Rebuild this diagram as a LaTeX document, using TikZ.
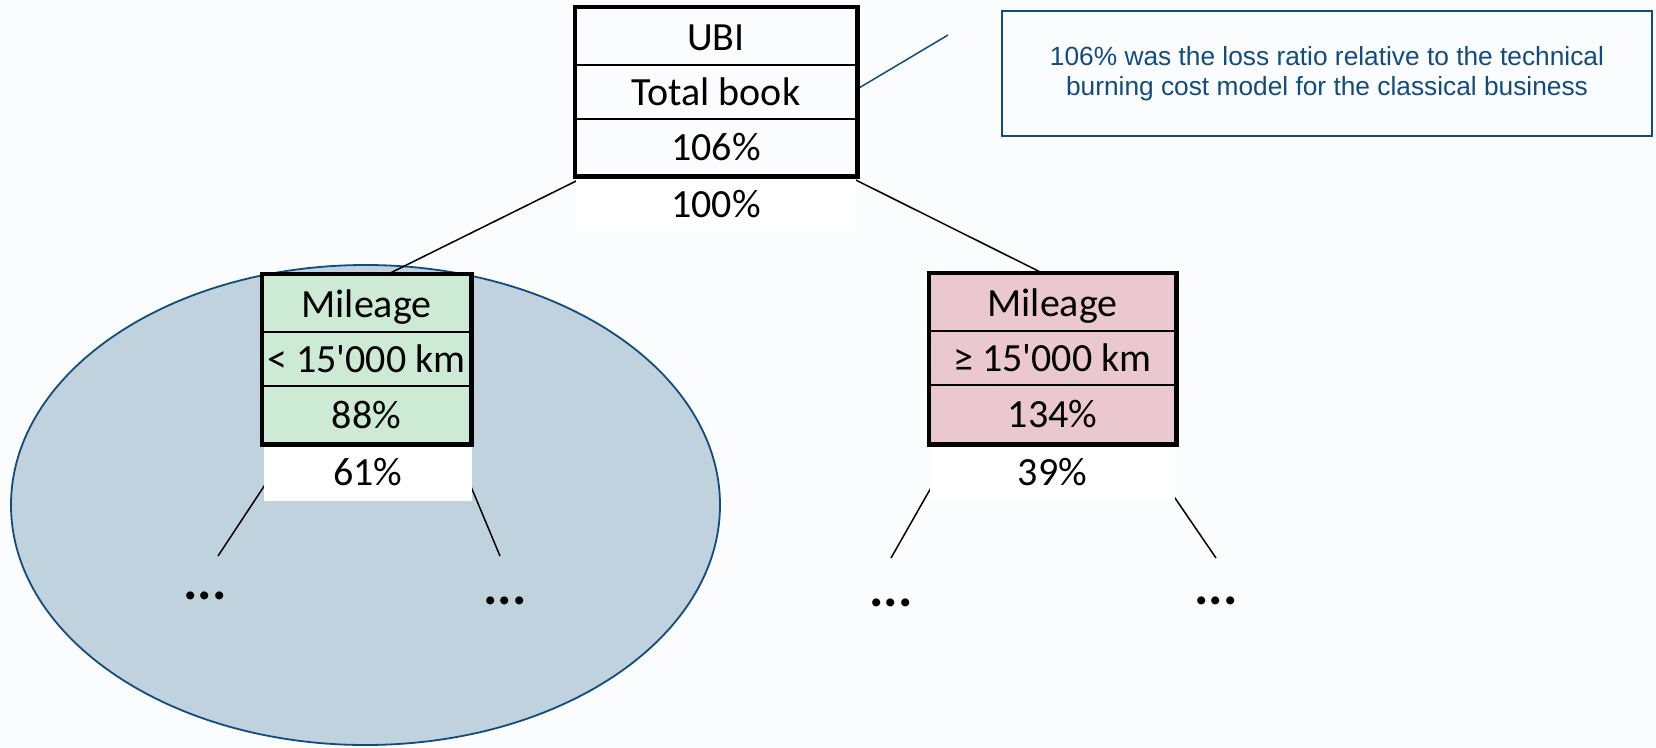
\documentclass[tikz,border=0pt]{standalone}
\usepackage{fontspec}
\newfontfamily\calib{Carlito}
\newfontfamily\arialf{Liberation Sans}
\usetikzlibrary{calc}
\pgfdeclarelayer{back}
\pgfdeclarelayer{behind}
\pgfsetlayers{back,behind,main}
\definecolor{pagebg}{RGB}{251,252,254}
\definecolor{mintfill}{RGB}{205,234,212}
\definecolor{pinkfill}{RGB}{235,200,208}
\definecolor{ellfill}{RGB}{192,210,222}
\definecolor{navy}{RGB}{18,76,126}
\tikzset{
  cell/.style={draw=black, line width=2.5pt, inner sep=0pt, anchor=center,
    text height=31pt, text depth=4pt,
    font=\calib\fontsize{40}{48}\selectfont, text=black},
  share/.style={fill=white, inner sep=0pt, anchor=center,
    text height=31pt, text depth=4pt,
    font=\calib\fontsize{40}{48}\selectfont, text=black},
  frame/.style={draw=black, line width=4.5pt},
  branch/.style={draw=black, line width=1.5pt},
  more/.style={anchor=base, inner sep=0pt, font=\calib\bfseries\fontsize{54}{60}\selectfont},
  note/.style={draw=navy, line width=1.5pt, text=navy, align=center, inner sep=0pt,
    minimum width=650pt, minimum height=125pt,
    font=\arialf\fontsize{26.3}{30}\selectfont},
}
\begin{document}
\begin{tikzpicture}[x=1pt,y=-1pt]
\useasboundingbox (0,0) rectangle (1656,747);
\begin{pgfonlayer}{back}
  \fill[pagebg] (0,0) rectangle (1656,747);
  \filldraw[fill=ellfill, draw=navy, line width=1.8pt] (365.5,505) ellipse [x radius=354.5, y radius=240];
\end{pgfonlayer}

% top box
\node[cell, minimum width=280pt, minimum height=57pt] (T1) at (716,36.5) {UBI};
\node[cell, minimum width=280pt, minimum height=54pt] (T2) at (716,92) {Total book};
\node[cell, minimum width=280pt, minimum height=56pt] (T3) at (716,147) {106\%};
\node[share, minimum width=280pt, minimum height=56pt] (TS) at (716,204) {100\%};
\draw[frame] (T1.north west) rectangle (T3.south east);

% left box
\node[cell, fill=mintfill, minimum width=207pt, minimum height=57pt] (L1) at (366.5,303.5) {Mileage};
\node[cell, fill=mintfill, minimum width=207pt, minimum height=54pt] (L2) at (366.5,359) {< 15\textquotesingle 000 km};
\node[cell, fill=mintfill, minimum width=207pt, minimum height=57pt] (L3) at (366.5,414.5) {88\%};
\node[share, minimum width=208pt, minimum height=58pt] (LS) at (368,472) {61\%};
\draw[frame] (L1.north west) rectangle (L3.south east);

% right box
\node[cell, fill=pinkfill, minimum width=245pt, minimum height=57pt] (R1) at (1052.5,302.5) {Mileage};
\node[cell, fill=pinkfill, minimum width=245pt, minimum height=54pt] (R2) at (1052.5,358) {≥ 15\textquotesingle 000 km};
\node[cell, fill=pinkfill, minimum width=245pt, minimum height=58pt] (R3) at (1052.5,414) {134\%};
\node[share, minimum width=245pt, minimum height=57pt] (RS) at (1052.5,471.5) {39\%};
\draw[frame] (R1.north west) rectangle (R3.south east);

% callout
\node[note] (C) at (1327,73.5) {106\% was the loss ratio relative to the technical\\burning cost model for the classical business};
\coordinate (Cend) at (948,35);

% dots
\node[more] (D1) at (205,599) {...};
\node[more] (D2) at (505,604) {...};
\node[more] (D3) at (891,606) {...};
\node[more] (D4) at (1216,604) {...};
\coordinate (E1) at (218,556);
\coordinate (E2) at (500,556);
\coordinate (E3) at (891,558);
\coordinate (E4) at (1216,558);

\begin{pgfonlayer}{behind}
  \draw[branch] ([xshift=11pt]T3.south west) -- ([xshift=127pt]L1.north west);
  \draw[branch] ([xshift=-9pt]T3.south east) -- ([xshift=113pt]R1.north west);
  \draw[navy, line width=1.5pt] ([yshift=3pt]T2.east) -- (Cend);
  \draw[branch] ([xshift=30pt]L3.south west) -- (E1);
  \draw[branch] ([xshift=-18pt]L3.south east) -- (E2);
  \draw[branch] ([xshift=27pt]R3.south west) -- (E3);
  \draw[branch] ([xshift=-38pt]R3.south east) -- (E4);
\end{pgfonlayer}
\end{tikzpicture}
\end{document}
